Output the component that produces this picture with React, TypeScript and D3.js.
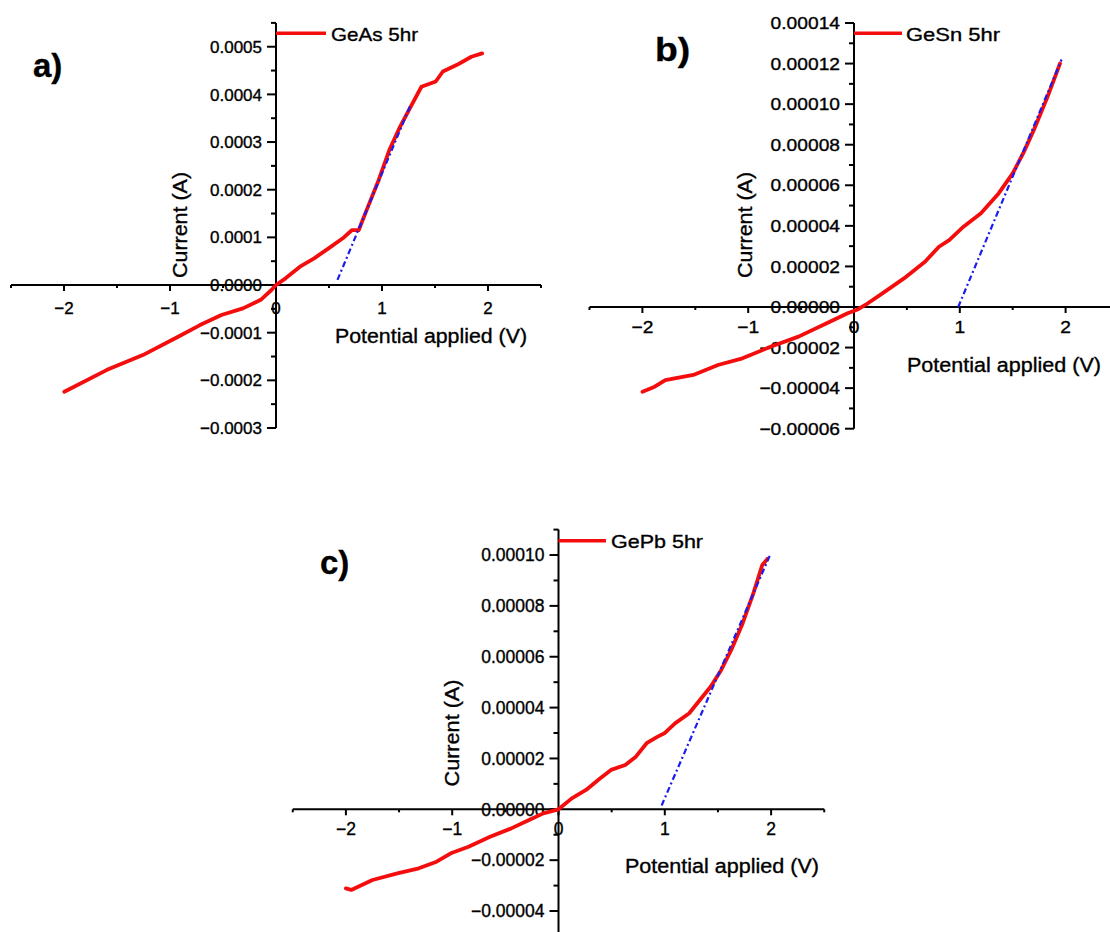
import React from "react";
import * as d3 from "d3";

// ---- Measured I–V data (potential in V, current in A) ----
const voltsA = [-1.997, -1.594, -1.256, -0.919, -0.717, -0.515, -0.312, -0.144, -0.043, 0, 0.09, 0.226, 0.36, 0.496, 0.63, 0.715, 0.78, 0.867, 0.968, 1.069, 1.17, 1.27, 1.372, 1.507, 1.574, 1.708, 1.843, 1.944];
const currentA = [-0.000224, -0.000178, -0.000147, -0.000108, -0.000084, -0.000063, -0.000049, -0.000031, -0.0000105, 0, 0.000014, 0.0000384, 0.000056, 0.000077, 0.000098, 0.000115, 0.000115, 0.000164, 0.00022, 0.000283, 0.000332, 0.000374, 0.000416, 0.000427, 0.000448, 0.000462, 0.000479, 0.000486];

const voltsB = [-1.999, -1.884, -1.783, -1.519, -1.286, -1.054, -0.789, -0.524, -0.258, -0.06, 0.04, 0.107, 0.272, 0.472, 0.671, 0.803, 0.9, 1.035, 1.2, 1.367, 1.5, 1.6, 1.7, 1.83, 1.947];
const currentB = [-0.0000418, -0.0000393, -0.000036, -0.0000335, -0.0000286, -0.0000253, -0.0000196, -0.0000146, -0.000008, -0.0000031, -0.0000011, 0.000001, 0.0000068, 0.0000141, 0.0000223, 0.0000297, 0.000033, 0.0000396, 0.0000462, 0.000056, 0.0000659, 0.0000758, 0.0000873, 0.0001037, 0.00012];

const voltsC = [-2.0, -1.95, -1.75, -1.516, -1.314, -1.147, -1.013, -0.846, -0.644, -0.444, -0.277, -0.143, 0, 0.125, 0.259, 0.393, 0.494, 0.628, 0.728, 0.829, 0.929, 0.996, 1.096, 1.23, 1.33, 1.431, 1.531, 1.632, 1.732, 1.833, 1.916, 1.965];
const currentC = [-0.0000311, -0.0000317, -0.0000278, -0.0000252, -0.0000232, -0.0000206, -0.0000173, -0.0000147, -0.0000108, -0.0000075, -0.0000042, -0.0000016, 0, 0.0000043, 0.0000076, 0.0000122, 0.0000155, 0.0000174, 0.0000207, 0.000026, 0.0000285, 0.0000299, 0.0000338, 0.0000378, 0.000043, 0.0000482, 0.0000548, 0.0000633, 0.0000731, 0.0000849, 0.000096, 0.0000985];

// Linear fits of the forward-bias region (threshold extrapolation)
const fitVoltsA = [0.58, 1.27];
const fitCurrentA = [0.0000107, 0.000378];
const fitVoltsB = [0.985, 1.962];
const fitCurrentB = [0, 0.000122];
const fitVoltsC = [0.97, 1.99];
const fitCurrentC = [0.0000015, 0.0001];

// ---- Axis ticks ----
const xMajor = [-2, -1, 0, 1, 2];
const xMajorLabels = ["\u22122", "\u22121", "0", "1", "2"];
const xMinor = [-2.5, -1.5, -0.5, 0.5, 1.5, 2.5];

const yMajorA = [-0.0003, -0.0002, -0.0001, 0, 0.0001, 0.0002, 0.0003, 0.0004, 0.0005];
const yLabelsA = ["\u22120.0003", "\u22120.0002", "\u22120.0001", "0.0000", "0.0001", "0.0002", "0.0003", "0.0004", "0.0005"];
const yMinorA = [-0.00025, -0.00015, -0.00005, 0.00005, 0.00015, 0.00025, 0.00035, 0.00045, 0.00055];

const yMajorB = [-0.00006, -0.00004, -0.00002, 0, 0.00002, 0.00004, 0.00006, 0.00008, 0.0001, 0.00012, 0.00014];
const yLabelsB = ["\u22120.00006", "\u22120.00004", "\u22120.00002", "0.00000", "0.00002", "0.00004", "0.00006", "0.00008", "0.00010", "0.00012", "0.00014"];
const yMinorB = [-0.00005, -0.00003, -0.00001, 0.00001, 0.00003, 0.00005, 0.00007, 0.00009, 0.00011, 0.00013];

const yMajorC = [-0.00004, -0.00002, 0, 0.00002, 0.00004, 0.00006, 0.00008, 0.0001];
const yLabelsC = ["\u22120.00004", "\u22120.00002", "0.00000", "0.00002", "0.00004", "0.00006", "0.00008", "0.00010"];
const yMinorC = [-0.00005, -0.00003, -0.00001, 0.00001, 0.00003, 0.00005, 0.00007, 0.00009, 0.00011];

const FONT = "'Liberation Sans', Arial, Helvetica, sans-serif";
const RED = "#f40d0d";
const BLUE = "#1c1cf0";
const INK = "#000";
const INK_STROKE = 0.35;

type PanelProps = {
  letter: string;
  legend: string;
  volts: number[];
  current: number[];
  fitVolts: number[];
  fitCurrent: number[];
  xRange: [number, number];
  yDomain: [number, number];
  yRange: [number, number];
  yAxisBottom?: number;
  yMajor: number[];
  yLabels: string[];
  yMinor: number[];
  sx: number;
  tickFont: number;
  xLabelOffset: number;
  letterPos: [number, number];
  legendEnd: number;
  legendTextX: number;
  legendTextW: number;
  legendBaseline: number;
  legendY: number;
  xTitle: { x: number; w: number; y: number };
  yTitle: { x: number; cy: number; len: number };
};

function SText(props: {
  x: number;
  y: number;
  sx: number;
  anchor?: "start" | "middle" | "end";
  size: number;
  weight?: string;
  children: React.ReactNode;
}) {
  const { x, y, sx, anchor = "start", size, weight = "normal", children } = props;
  return (
    <text
      transform={`translate(${x},${y}) scale(${sx},1)`}
      textAnchor={anchor}
      fontSize={size}
      fontWeight={weight}
      fontFamily={FONT}
      fill={INK}
      stroke={INK}
      strokeWidth={INK_STROKE}
    >
      {children}
    </text>
  );
}

function Panel(p: PanelProps) {
  const x = d3.scaleLinear().domain([-2.5, 2.5]).range(p.xRange);
  const y = d3.scaleLinear().domain(p.yDomain).range(p.yRange);
  const x0 = x(0);
  const y0 = y(0);
  const yTop = y(p.yDomain[1]);
  const yBottom = p.yAxisBottom ?? y(p.yDomain[0]);

  const line = d3
    .line<number>()
    .x((_, i) => x(p.volts[i]))
    .y((d) => y(d))
    .curve(d3.curveLinear);
  const fitLine = d3
    .line<number>()
    .x((_, i) => x(p.fitVolts[i]))
    .y((d) => y(d));

  return (
    <g>
      {/* axes */}
      <line x1={p.xRange[0]} x2={p.xRange[1]} y1={y0} y2={y0} stroke={INK} strokeWidth={2} />
      <line x1={x0} x2={x0} y1={yTop} y2={yBottom} stroke={INK} strokeWidth={2} />
      {xMajor.map((v) => (
        <line key={"xM" + v} x1={x(v)} x2={x(v)} y1={y0} y2={y0 + 6} stroke={INK} strokeWidth={2} />
      ))}
      {xMinor.map((v) => (
        <line key={"xm" + v} x1={x(v)} x2={x(v)} y1={y0} y2={y0 + 3} stroke={INK} strokeWidth={2} />
      ))}
      {p.yMajor.map((v) => (
        <line key={"yM" + v} x1={x0 - 9} x2={x0} y1={y(v)} y2={y(v)} stroke={INK} strokeWidth={2} />
      ))}
      {p.yMinor.map((v) => (
        <line key={"ym" + v} x1={x0 - 5} x2={x0} y1={y(v)} y2={y(v)} stroke={INK} strokeWidth={2} />
      ))}
      {/* tick labels */}
      {p.yMajor.map((v, i) => (
        <SText key={"yl" + v} x={x0 - 14} y={y(v) + p.tickFont * 0.36} sx={p.sx} anchor="end" size={p.tickFont}>
          {p.yLabels[i]}
        </SText>
      ))}
      {xMajor.map((v, i) => (
        <SText key={"xl" + v} x={x(v)} y={y0 + p.xLabelOffset} sx={p.sx} anchor="middle" size={p.tickFont}>
          {xMajorLabels[i]}
        </SText>
      ))}
      {/* axis titles */}
      <text
        x={p.xTitle.x}
        y={p.xTitle.y}
        fontSize={20}
        fontFamily={FONT}
        fill={INK}
        stroke={INK}
        strokeWidth={INK_STROKE}
        textLength={p.xTitle.w}
        lengthAdjust="spacingAndGlyphs"
      >
        Potential applied (V)
      </text>
      <text
        transform={`translate(${p.yTitle.x},${p.yTitle.cy}) rotate(-90)`}
        textAnchor="middle"
        fontSize={20}
        fontFamily={FONT}
        fill={INK}
        stroke={INK}
        strokeWidth={INK_STROKE}
        textLength={p.yTitle.len}
        lengthAdjust="spacingAndGlyphs"
      >
        Current (A)
      </text>
      {/* data */}
      <path d={line(p.current) ?? ""} fill="none" stroke={RED} strokeWidth={3.8} strokeLinejoin="round" strokeLinecap="round" />
      <path d={fitLine(p.fitCurrent) ?? ""} fill="none" stroke={BLUE} strokeWidth={2.2} strokeDasharray="6,3,2,3" />
      {/* legend */}
      <line x1={x0} x2={p.legendEnd} y1={p.legendY} y2={p.legendY} stroke={RED} strokeWidth={3.5} />
      <text
        x={p.legendTextX}
        y={p.legendBaseline}
        fontSize={19}
        fontFamily={FONT}
        fill={INK}
        stroke={INK}
        strokeWidth={INK_STROKE}
        textLength={p.legendTextW}
        lengthAdjust="spacingAndGlyphs"
      >
        {p.legend}
      </text>
      {/* panel letter */}
      <SText x={p.letterPos[0]} y={p.letterPos[1]} sx={p.sx} size={33} weight="bold">
        {p.letter}
      </SText>
    </g>
  );
}

export default function App() {
  return (
    <svg
      width={1110}
      height={932}
      viewBox="0 0 1110 932"
      style={{ position: "absolute", left: 0, top: 0, background: "#fff" }}
    >
      <rect width={1110} height={932} fill="#fff" />
      <Panel
        letter="a)"
        legend="GeAs 5hr"
        volts={voltsA}
        current={currentA}
        fitVolts={fitVoltsA}
        fitCurrent={fitCurrentA}
        xRange={[11, 541]}
        yDomain={[-0.0003, 0.00055]}
        yRange={[428, 22.9]}
        yMajor={yMajorA}
        yLabels={yLabelsA}
        yMinor={yMinorA}
        sx={1}
        tickFont={17}
        xLabelOffset={29}
        letterPos={[33, 77]}
        legendEnd={326}
        legendTextX={331}
        legendTextW={87}
        legendBaseline={40.5}
        legendY={33.3}
        xTitle={{ x: 335, w: 192, y: 343 }}
        yTitle={{ x: 187, cy: 225, len: 106 }}
      />
      <Panel
        letter="b)"
        legend="GeSn 5hr"
        volts={voltsB}
        current={currentB}
        fitVolts={fitVoltsB}
        fitCurrent={fitCurrentB}
        xRange={[589.5, 1118.5]}
        yDomain={[-0.00006, 0.00014]}
        yRange={[428.7, 23]}
        yMajor={yMajorB}
        yLabels={yLabelsB}
        yMinor={yMinorB}
        sx={1.13}
        tickFont={17}
        xLabelOffset={26}
        letterPos={[655, 61]}
        legendEnd={902}
        legendTextX={906}
        legendTextW={94}
        legendBaseline={40.5}
        legendY={33.3}
        xTitle={{ x: 907, w: 194, y: 372 }}
        yTitle={{ x: 752, cy: 225, len: 106 }}
      />
      <Panel
        letter="c)"
        legend="GePb 5hr"
        volts={voltsC}
        current={currentC}
        fitVolts={fitVoltsC}
        fitCurrent={fitCurrentC}
        xRange={[292.75, 824.25]}
        yDomain={[-0.00005, 0.00011]}
        yRange={[936.45, 529.6]}
        yAxisBottom={932}
        yMajor={yMajorC}
        yLabels={yLabelsC}
        yMinor={yMinorC}
        sx={1}
        tickFont={17.5}
        xLabelOffset={26}
        letterPos={[320, 574]}
        legendEnd={606}
        legendTextX={611}
        legendTextW={92}
        legendBaseline={548}
        legendY={540.7}
        xTitle={{ x: 625, w: 194, y: 873 }}
        yTitle={{ x: 459, cy: 733, len: 107 }}
      />
    </svg>
  );
}
